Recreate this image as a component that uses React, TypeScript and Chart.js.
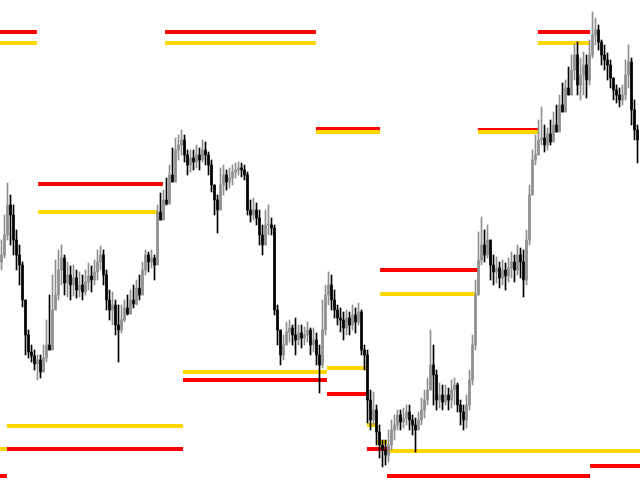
import React, { useEffect, useRef } from "react";
import { Chart, registerables } from "chart.js";

Chart.register(...registerables);

// Price series (points), one candle per bar; open = previous close
const firstOpen = 738;
const closes = [
  745, 765, 795, 785, 760, 745, 735, 700, 665, 648,
  644, 636, 640, 628, 642, 655, 650, 690, 705, 730,
  742, 717, 725, 715, 722, 710, 715, 708, 718, 724,
  720, 728, 738, 745, 725, 700, 690, 695, 675, 670,
  680, 692, 686, 700, 696, 712, 705, 730, 745, 738,
  742, 735, 788, 780, 800, 796, 825, 818, 850, 855,
  860, 845, 835, 842, 838, 845, 840, 850, 845, 835,
  815, 800, 790, 815, 825, 818, 822, 828, 830, 832,
  830, 825, 790, 785, 790, 782, 765, 755, 775, 775,
  772, 690, 670, 645, 655, 668, 672, 665, 660, 667,
  662, 665, 670, 655, 660, 645, 635, 670, 705, 715,
  700, 690, 682, 680, 672, 682, 675, 685, 678, 688,
  650, 645, 600, 580, 590, 568, 555, 550, 545, 555,
  570, 575, 585, 578, 582, 588, 580, 575, 570, 580,
  590, 600, 610, 635, 625, 600, 605, 598, 605, 600,
  610, 615, 595, 588, 580, 595, 620, 655, 705, 740,
  755, 745, 760, 735, 728, 732, 722, 730, 724, 732,
  738, 730, 745, 738, 720, 760, 805, 840, 845, 860,
  862, 855, 866, 858, 875, 868, 895, 888, 912, 905,
  930, 945, 915, 925, 935, 920, 945, 965, 970, 958,
  945, 940, 935, 922, 910, 905, 900, 905, 925, 938, 890, 870, 860,
];
const highs = [
  760, 785, 817, 805, 795, 770, 755, 738, 700, 670,
  655, 650, 645, 645, 655, 680, 705, 725, 740, 750,
  755, 745, 738, 734, 735, 730, 728, 725, 730, 737,
  734, 740, 750, 754, 750, 730, 710, 708, 700, 695,
  695, 700, 705, 710, 715, 720, 725, 738, 750, 748,
  750, 745, 795, 807, 810, 822, 835, 852, 862, 865,
  870, 865, 850, 850, 850, 855, 852, 860, 858, 848,
  840, 815, 805, 832, 835, 830, 832, 835, 837, 838,
  837, 835, 828, 800, 802, 797, 790, 775, 790, 795,
  782, 775, 695, 670, 665, 678, 680, 675, 682, 675,
  675, 673, 678, 672, 672, 667, 655, 700, 715, 728,
  725, 710, 695, 692, 688, 690, 688, 695, 692, 697,
  690, 655, 650, 610, 608, 595, 575, 560, 560, 570,
  580, 585, 590, 590, 592, 595, 595, 585, 582, 588,
  602, 610, 622, 670, 655, 630, 617, 615, 615, 612,
  620, 622, 617, 600, 595, 605, 630, 665, 720, 768,
  783, 770, 775, 760, 745, 743, 738, 740, 737, 742,
  748, 745, 755, 752, 750, 770, 815, 850, 865, 880,
  893, 875, 872, 880, 888, 895, 905, 917, 920, 933,
  945, 956, 958, 942, 948, 945, 960, 988, 982, 975,
  960, 955, 947, 940, 922, 915, 912, 915, 940, 955, 942, 900, 875,
];
const lows = [
  730, 742, 760, 755, 745, 730, 715, 693, 645, 642,
  638, 630, 620, 622, 628, 638, 655, 680, 700, 700,
  715, 705, 703, 700, 704, 702, 703, 700, 705, 710,
  708, 715, 720, 730, 715, 690, 680, 675, 665, 638,
  667, 678, 685, 690, 692, 695, 700, 710, 725, 728,
  732, 720, 738, 785, 790, 795, 805, 820, 835, 840,
  845, 838, 825, 828, 830, 832, 830, 838, 835, 825,
  808, 785, 767, 790, 805, 810, 812, 815, 822, 825,
  823, 820, 785, 778, 780, 775, 755, 745, 755, 765,
  765, 685, 655, 635, 640, 655, 658, 655, 645, 655,
  652, 655, 658, 645, 648, 635, 607, 632, 665, 695,
  690, 682, 675, 668, 660, 665, 665, 670, 667, 675,
  645, 630, 577, 570, 575, 555, 542, 533, 535, 538,
  550, 560, 570, 570, 572, 575, 570, 565, 548, 570,
  575, 582, 595, 615, 595, 590, 592, 590, 595, 590,
  592, 595, 588, 575, 570, 572, 590, 615, 650, 705,
  735, 738, 742, 720, 715, 717, 712, 715, 710, 718,
  722, 718, 725, 722, 703, 715, 755, 815, 835, 845,
  855, 848, 850, 855, 865, 870, 882, 890, 900, 905,
  910, 920, 905, 900, 905, 902, 915, 942, 955, 950,
  935, 930, 920, 912, 900, 897, 893, 895, 900, 912, 875, 860, 837,
];

// Horizontal levels: price, start bar, end bar
const redLevelPrices = [968, 968, 871, 816, 730, 620, 606, 551, 551, 524, 534, 524, 968, 870];
const redLevelFrom = [-0.5, 54.5, 104.8, 12.2, 126.2, 60.5, 108.5, 1.8, 121.8, 128.5, 196.2, -0.5, 178.8, 158.8];
const redLevelTo = [11.8, 104.8, 126.2, 53.8, 158.8, 108.5, 121.8, 60.5, 129.5, 196.2, 212.9, 1.8, 196.2, 178.8];

const yellowLevelPrices = [957, 957, 868, 788, 706, 628, 632, 574, 551, 575, 558, 549, 957, 868];
const yellowLevelFrom = [-0.5, 54.5, 104.8, 12.2, 126.2, 60.5, 108.5, 1.8, -0.5, 121.8, 125.2, 129.5, 178.8, 158.8];
const yellowLevelTo = [11.8, 104.8, 126.2, 52.2, 158.2, 108.5, 121.8, 60.5, 1.8, 125.2, 128.5, 212.9, 196.2, 178.8];

const RED = "#ff0000";
const YELLOW = "#ffd700";
const UP = "#8f8f8f";
const DOWN = "#000000";

export default function App() {
  const ref = useRef<HTMLCanvasElement | null>(null);

  useEffect(() => {
    document.body.style.margin = "0";
    const canvas = ref.current;
    if (!canvas) return;

    const opens = closes.map((_, i) => (i === 0 ? firstOpen : closes[i - 1]));
    const colors = closes.map((c, i) => (c >= opens[i] ? UP : DOWN));
    const wicks = closes.map((c, i) => ({
      x: i,
      y: [Math.min(lows[i], opens[i], c), Math.max(highs[i], opens[i], c)],
    }));
    const bodies = closes.map((c, i) => ({ x: i, y: [opens[i], c] }));

    const levelSets: any[] = [];
    const addLevels = (prices: number[], from: number[], to: number[], color: string) => {
      prices.forEach((p, k) => {
        levelSets.push({
          type: "line",
          data: [
            { x: from[k], y: p },
            { x: to[k], y: p },
          ],
          borderColor: color,
          borderWidth: 4,
          borderCapStyle: "butt",
          pointRadius: 0,
          fill: false,
          order: 2,
        });
      });
    };
    addLevels(yellowLevelPrices, yellowLevelFrom, yellowLevelTo, YELLOW);
    addLevels(redLevelPrices, redLevelFrom, redLevelTo, RED);

    const chart = new Chart(canvas, {
      type: "bar",
      data: {
        datasets: [
          {
            type: "bar",
            data: wicks as any,
            backgroundColor: colors,
            barThickness: 1,
            grouped: false,
            order: 1,
          } as any,
          {
            type: "bar",
            data: bodies as any,
            backgroundColor: colors,
            barThickness: 2,
            minBarLength: 1,
            grouped: false,
            order: 0,
          } as any,
          ...levelSets,
        ],
      },
      options: {
        responsive: false,
        animation: false,
        maintainAspectRatio: false,
        layout: { padding: 0 },
        plugins: { legend: { display: false }, tooltip: { enabled: false } },
        scales: {
          x: {
            type: "linear",
            min: -0.5,
            max: 212.83,
            offset: false,
            display: false,
          },
          y: {
            type: "linear",
            min: 520,
            max: 1000,
            display: false,
          },
        },
      },
    });
    return () => chart.destroy();
  }, []);

  return <canvas ref={ref} width={640} height={480} style={{ display: "block" }} />;
}
